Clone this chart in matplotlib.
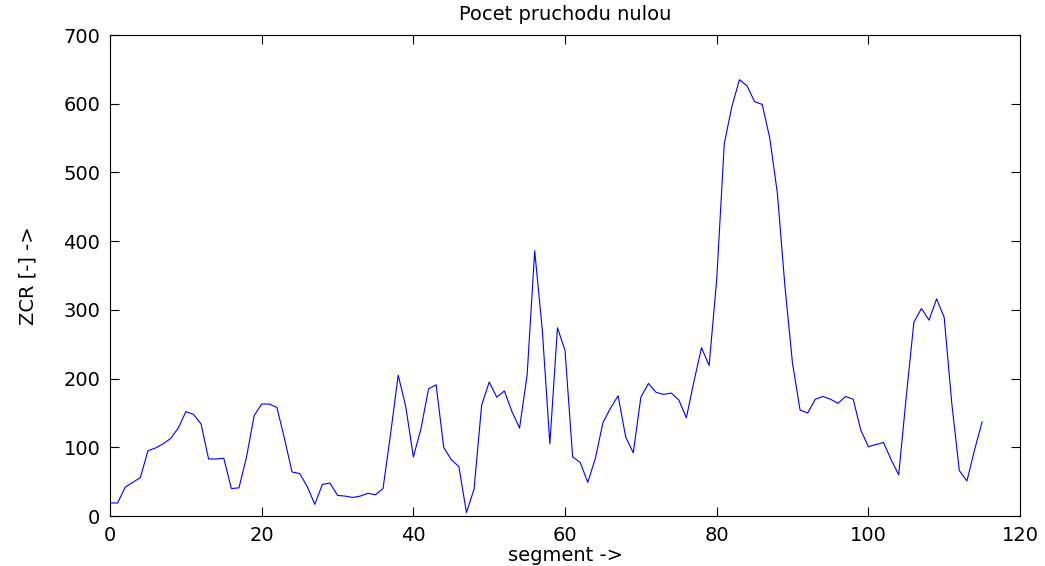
import numpy as np
import matplotlib
matplotlib.use('Agg')
import matplotlib.pyplot as plt

plt.rcParams['font.family'] = ['DejaVu Sans']

# pocet pruchodu nulou pro kazdy segment
segment = np.arange(0, 116)
zcr = [19, 19, 42, 49, 56, 95, 99, 105, 113, 128,
       152, 148, 134, 83, 83, 84, 40, 41, 86, 146,
       163, 163, 158, 113, 64, 62, 43, 17, 46, 48,
       30, 29, 27, 29, 33, 31, 40, 120, 205, 159,
       86, 127, 185, 191, 100, 82, 72, 5, 39, 161,
       195, 173, 182, 152, 128, 205, 386, 271, 105, 274,
       241, 86, 78, 49, 84, 136, 157, 175, 115, 92,
       173, 193, 180, 177, 179, 169, 143, 196, 245, 219,
       344, 542, 596, 635, 626, 603, 599, 550, 470, 334,
       222, 154, 150, 170, 174, 170, 164, 174, 170, 125,
       101, 104, 107, 82, 60, 174, 282, 302, 285, 316,
       289, 164, 66, 51, 96, 137]

xticks = [0, 20, 40, 60, 80, 100, 120]
yticks = [0, 100, 200, 300, 400, 500, 600, 700]

fig = plt.figure(figsize=(10.45, 5.66), dpi=100)
ax = fig.add_axes([0.1053, 0.0883, 0.8708, 0.8498])
ax.plot(segment, zcr, color='#0000ff', linewidth=0.8)

ax.set_xlim(0, 120)
ax.set_ylim(0, 700)
ax.set_xticks(xticks)
ax.set_yticks(yticks)
ax.tick_params(direction='in', top=True, right=True, length=6.5, width=0.8,
               labelsize=14)
ax.tick_params(axis='x', pad=7)
ax.tick_params(axis='y', pad=7)
for s in ax.spines.values():
    s.set_linewidth(0.8)

ax.set_title('Pocet pruchodu nulou', fontsize=14, pad=11)
ax.set_xlabel('segment ->', fontsize=14)
ax.set_ylabel('ZCR [-] ->', fontsize=14)
ax.xaxis.set_label_coords(0.5, -0.062)
ax.yaxis.set_label_coords(-0.08, 0.5)

fig.savefig('out.png', dpi=100)
